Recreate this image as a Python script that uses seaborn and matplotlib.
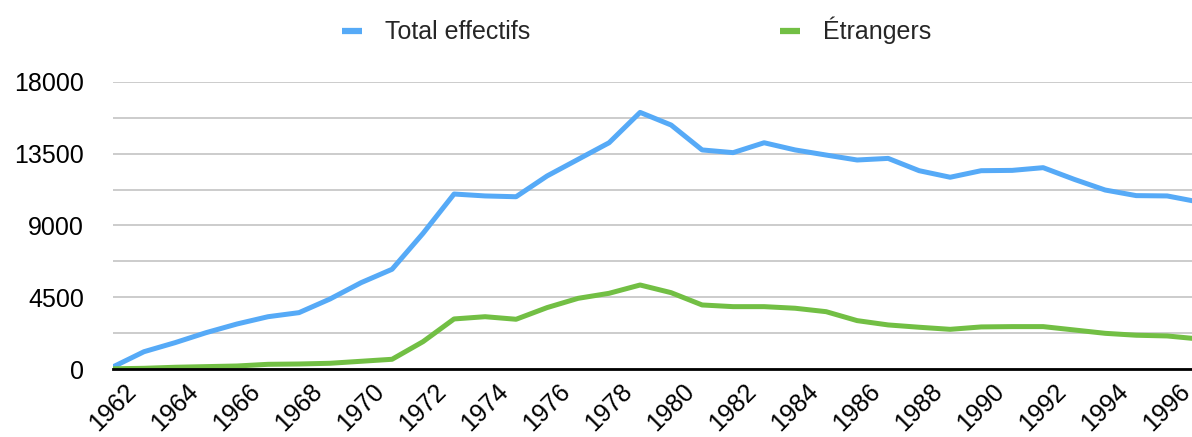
import pandas as pd
import matplotlib
matplotlib.use("Agg")
import matplotlib.pyplot as plt
import seaborn as sns
from matplotlib.ticker import MultipleLocator

years = list(range(1962, 1998))
total = [150, 1100, 1665, 2290, 2835, 3290, 3545, 4400, 5420, 6260,
         8510, 10970, 10850, 10800, 12100, 13140, 14180, 16080, 15290, 13730,
         13560, 14180, 13730, 13410, 13100, 13200, 12430, 12020, 12430, 12450,
         12620, 11890, 11220, 10870, 10850, 10480]
etrangers = [30, 60, 125, 165, 205, 310, 330, 375, 500, 625,
             1730, 3150, 3290, 3130, 3860, 4440, 4755, 5275, 4795, 4025,
             3920, 3920, 3820, 3605, 3045, 2775, 2630, 2500, 2650, 2670,
             2670, 2460, 2250, 2130, 2085, 1900]
labels = ["Total effectifs", "Étrangers"]
colors = ["#56aaf7", "#72bf44"]

df = pd.DataFrame({"year": years * 2,
                   "value": total + etrangers,
                   "serie": [labels[0]] * len(years) + [labels[1]] * len(years)})

sns.set_style("white")
plt.rcParams["font.family"] = ["Liberation Sans", "DejaVu Sans"]

fig = plt.figure(figsize=(11.92, 4.37), dpi=100)
ax = fig.add_axes([0.0948, 0.155, 0.9052, 0.658])
sns.lineplot(data=df, x="year", y="value", hue="serie", palette=colors,
             linewidth=3.6, ax=ax, legend=False)

ax.set_xlim(1962, 1996.8)
ax.set_ylim(0, 18000)
ax.yaxis.set_major_locator(MultipleLocator(4500))
ax.yaxis.set_minor_locator(MultipleLocator(2250))
ax.set_xticks(range(1962, 1997, 2))
ax.set_xticklabels([str(y) for y in range(1962, 1997, 2)], rotation=45, ha="center")
ax.grid(True, which="both", axis="y", color="#c4c4c4", linewidth=1.2)
ax.set_axisbelow(True)
ax.tick_params(axis="both", which="both", length=0, labelsize=18, colors="black")
ax.tick_params(axis="y", pad=21)
ax.tick_params(axis="x", pad=7)
for s in ["top", "right", "left"]:
    ax.spines[s].set_visible(False)
ax.spines["bottom"].set_color("black")
ax.spines["bottom"].set_linewidth(2)
ax.set_xlabel("")
ax.set_ylabel("")

handles = [plt.Line2D([], [], color=c, linewidth=4.5, solid_capstyle="butt") for c in colors]
fig.legend(handles, labels, loc="center", bbox_to_anchor=(0.534, 0.93), ncol=2,
           frameon=False, fontsize=18, handlelength=0.8, handletextpad=0.9,
           columnspacing=10)

fig.savefig("out.png", dpi=100)
